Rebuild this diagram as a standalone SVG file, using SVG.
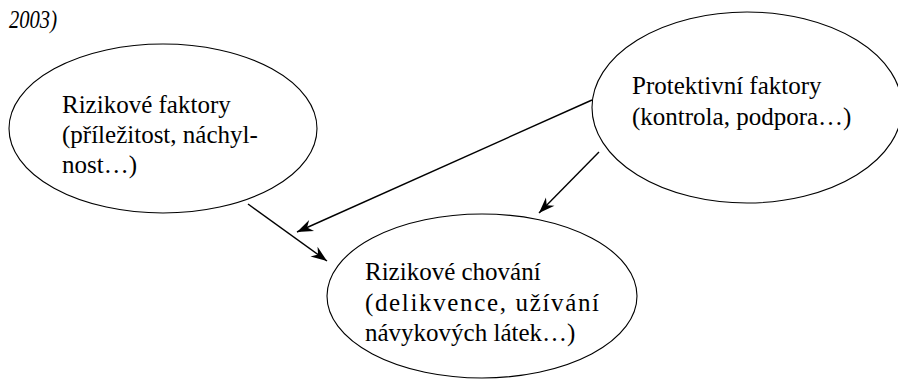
<svg xmlns="http://www.w3.org/2000/svg" width="898" height="379" viewBox="0 0 898 379">
<style>
.node ellipse{fill:#fff;stroke:#000;stroke-width:1.1}
.edges line{stroke:#000;stroke-width:1.4}
</style>
<defs>
<marker id="ah" markerUnits="userSpaceOnUse" markerWidth="20" markerHeight="14" viewBox="-17 -7 18 14" refX="0" refY="0" orient="auto">
<path d="M0,0 L-16,-6 L-11,0 L-16,6 Z" fill="#000"/>
</marker>
</defs>
<text x="9" y="28" font-family="Liberation Serif, serif" font-size="25" font-style="italic" textLength="48" lengthAdjust="spacingAndGlyphs">2003)</text>
<g font-family="Liberation Serif, serif" font-size="25" fill="#000">
<g id="rizikove-faktory" class="node">
<ellipse cx="163" cy="128.5" rx="154" ry="84.5"/>
<text x="62" y="113">Rizikové faktory</text>
<text x="62" y="143">(příležitost, náchyl-</text>
<text x="62" y="173">nost…)</text>
</g>
<g id="protektivni-faktory" class="node">
<ellipse cx="747" cy="107.5" rx="155" ry="95.5"/>
<text x="632" y="94">Protektivní faktory</text>
<text x="632" y="125">(kontrola, podpora…)</text>
</g>
<g id="rizikove-chovani" class="node">
<ellipse cx="482" cy="296" rx="155" ry="82"/>
<text x="365" y="280">Rizikové chování</text>
<text x="365" y="311" textLength="234" lengthAdjust="spacing">(delikvence, užívání</text>
<text x="365" y="341">návykových látek…)</text>
</g>
</g>
<g id="connectors" class="edges">
<line x1="248" y1="204" x2="327" y2="261" marker-end="url(#ah)"/>
<line x1="592" y1="100" x2="297" y2="232" marker-end="url(#ah)"/>
<line x1="599" y1="152" x2="539" y2="213" marker-end="url(#ah)"/>
</g>
</svg>
